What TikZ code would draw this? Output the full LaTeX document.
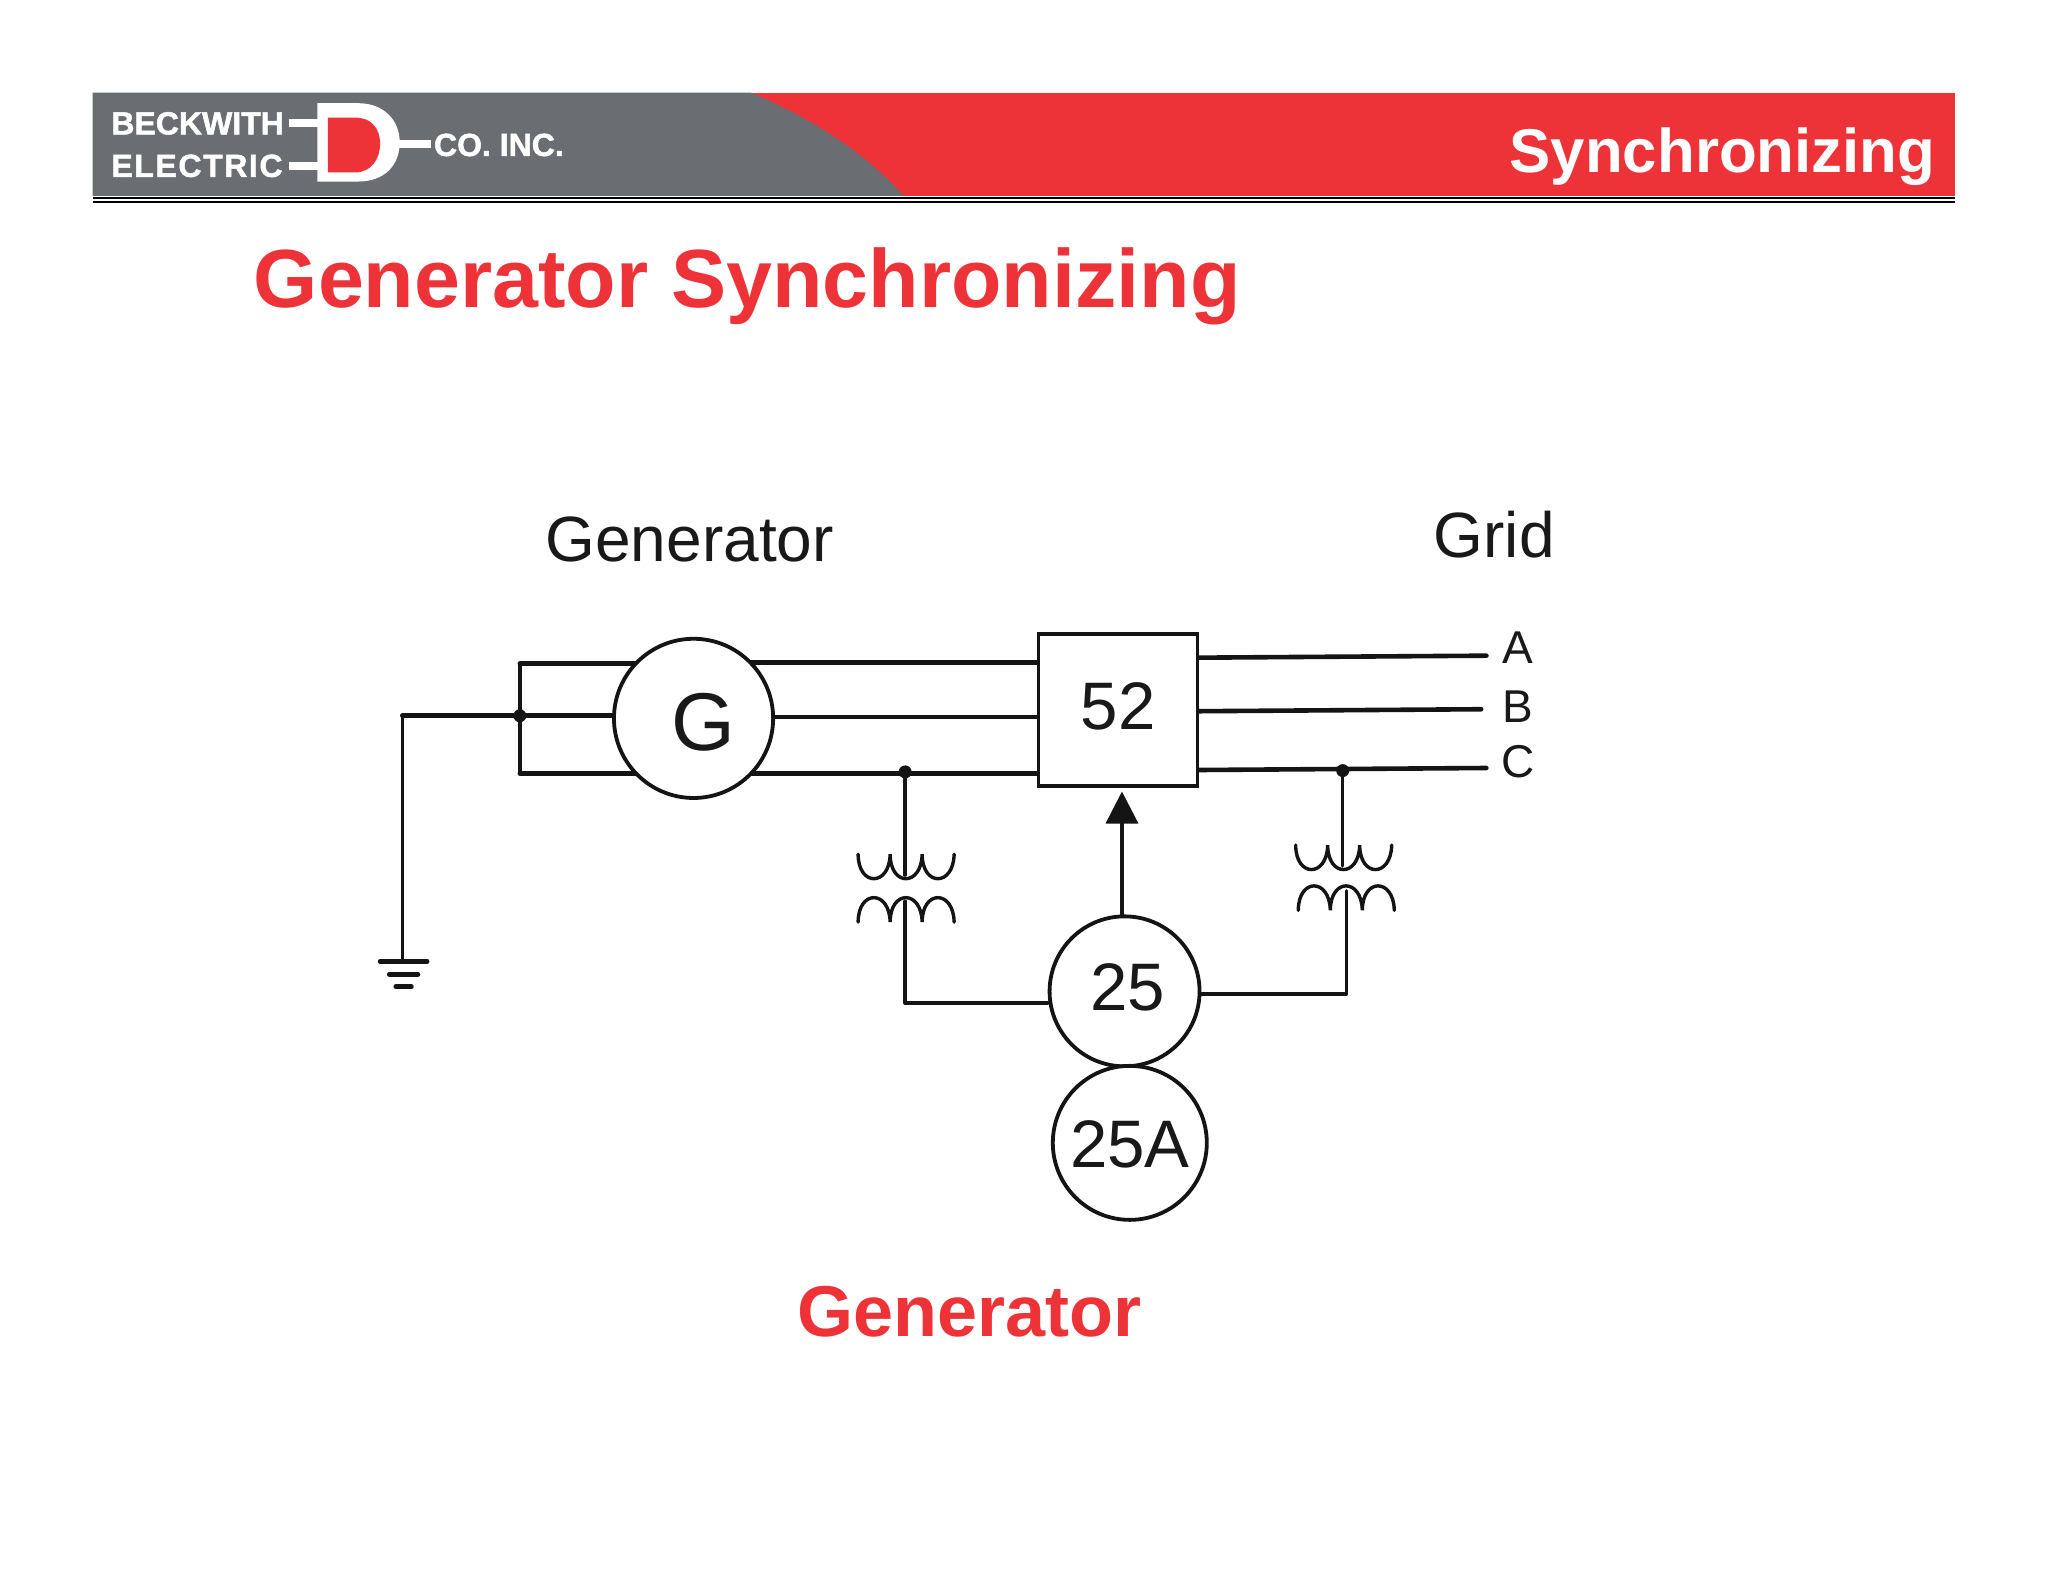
\documentclass[tikz,border=0pt]{standalone}
\usepackage{fontspec}
\setmainfont{Liberation Sans}
\usetikzlibrary{arrows.meta}
\definecolor{bandgray}{HTML}{6A6D72}
\definecolor{bandred}{HTML}{EE3338}
\newcommand{\lowered}[2]{\raisebox{#1}[\height][\depth]{#2}}
\tikzset{
  wire/.style={line width=2.3pt,black!92,line cap=round,line join=round},
  thinwire/.style={line width=1.7pt,black!92,line cap=round,line join=round},
  coil/.style={line width=1.7pt,black!92,line cap=round},
  relay/.style={circle,draw=black!92,line width=1.9pt,fill=white,inner sep=0pt},
  breaker/.style={rectangle,draw=black!92,line width=1.9pt,fill=white,inner sep=0pt},
  lab/.style={font=\fontsize{32}{36}\selectfont,text=black!90,inner sep=0pt},
  phase/.style={font=\fontsize{23}{26}\selectfont,text=black!90,inner sep=0pt},
  dot/.style={circle,fill=black!92,inner sep=0pt,minimum size=6.5pt},
  logo/.style={font=\bfseries\fontsize{16}{18}\selectfont,text=white,inner sep=0pt,anchor=west},
  redtext/.style={font=\bfseries,text=bandred,inner sep=0pt},
  logoline/.style={line width=4pt,white}
}
\newcommand{\coilU}[2]{%
  \draw[coil,shift={(#1,#2)}] (0,0) .. controls (0,25) and (24,25) .. (24.5,0)
    .. controls (24.5,25) and (48.5,25) .. (49,0)
    .. controls (49,25) and (73,25) .. (73.5,0);}
\newcommand{\coilN}[2]{%
  \draw[coil,shift={(#1,#2)}] (0,0) .. controls (0,-25) and (24,-25) .. (24.5,0)
    .. controls (24.5,-25) and (48.5,-25) .. (49,0)
    .. controls (49,-25) and (73,-25) .. (73.5,0);}
\begin{document}
\begin{tikzpicture}[x=0.65306pt,y=-0.65306pt]
\useasboundingbox (0,0) rectangle (1568,1211.2);
\fill[white] (0,0) rectangle (1568,1211.2);
% header band
\fill[bandred] (560,71) rectangle (1497,150);
\fill[bandgray] (71,71) -- (575,71) .. controls (625,92) and (665,120) .. (692,150) -- (71,150) -- cycle;
\draw[line width=0.8pt,black] (71,151.5) -- (1497,151.5);
\draw[line width=1pt,black] (71,155) -- (1497,155);
% logo
\node[logo] (beck) at (85,94.5) {\addfontfeature{FakeBold=1.5}BECKWITH};
\node[logo] (elec) at (85,127) {\addfontfeature{FakeBold=1.5,LetterSpace=5}ELECTRIC};
\node[logo] (coinc) at (332,111) {\addfontfeature{FakeBold=1.5}CO. INC.};
\draw[logoline] (221,94) -- (247,94);
\draw[logoline] (221,127) -- (247,127);
\draw[logoline] (296,110) -- (330,110);
\fill[white] (243,79) -- (274,79) .. controls (294,79) and (306,92) .. (306,109) .. controls (306,127) and (294,139) .. (274,139) -- (243,139) -- cycle;
\fill[bandred] (251,90) -- (272,90) .. controls (284,90) and (291,98) .. (291,110) .. controls (291,122) and (284,132) .. (272,132) -- (251,132) -- cycle;
% titles
\node[font=\bfseries\fontsize{30.9}{34}\selectfont,text=white,inner sep=0pt,anchor=east] (hdr) at (1482,120) {Synchronizing};
\node[redtext,font=\bfseries\fontsize{41.3}{46}\selectfont,anchor=west] (title) at (194,219) {Generator Synchronizing};
\node[redtext,font=\bfseries\fontsize{36}{40}\selectfont] (sub) at (742,1004) {Generator};
\node[lab] (lgen) at (528,413) {Generator};
\node[lab] (lgrid) at (1144,409) {Grid};
% coordinates
\coordinate (tl) at (398,508);
\coordinate (ml) at (398,548);
\coordinate (bl) at (398,592);
\coordinate (gnd) at (308,548);
\coordinate (gndb) at (308,736);
\coordinate (ea) at (1138,502);
\coordinate (eb) at (1134,543);
\coordinate (ec) at (1138,588);
\coordinate (cornerL) at (693,768);
\coordinate (cornerR) at (1031,761);
% wires behind nodes
\draw[thinwire] (tl) -- (bl);
\draw[wire] (tl) -- (530,508);
\draw[wire] (ml) -- (530,548);
\draw[wire] (bl) -- (530,592);
\draw[wire] (530,507) -- (800,507);
\draw[wire] (530,549) -- (800,549);
\draw[wire] (530,592) -- (800,592);
\draw[wire] (ml) -- (gnd);
\draw[thinwire] (gnd) -- (gndb);
\draw[wire] (850,504) -- (ea);
\draw[wire] (850,545) -- (eb);
\draw[wire] (850,590) -- (ec);
% ground
\draw[wire] (291,736) -- (327,736);
\draw[wire] (298,746) -- (320,746);
\draw[wire] (303,755.5) -- (315,755.5);
% nodes
\node[relay,minimum size=79.6pt,font=\fontsize{41}{46}\selectfont,text=black!90] (g) at (531,550) {\kern10pt\lowered{-2pt}{G}};
\node[breaker,minimum width=79.5pt,minimum height=76pt,font=\fontsize{33.6}{38}\selectfont,text=black!90] (brk) at (856,543.5) {\lowered{2pt}{52}};
\node[relay,minimum size=75pt,font=\fontsize{33.6}{38}\selectfont,text=black!90] (r25) at (861,759) {\kern3pt\lowered{2pt}{25}};
\node[relay,minimum size=77pt,font=\fontsize{33.6}{38}\selectfont,text=black!90] (r25a) at (865,875) {\lowered{-0.5pt}{25A}};
\node[phase] (pa) at (1162,496) {A};
\node[phase] (pb) at (1162,541) {B};
\node[phase] (pc) at (1162,583) {C};
% junctions
\node[dot] (j0) at (398,548) {};
\node[dot] (j1) at (693,591) {};
\node[dot] (j2) at (1028,590) {};
% transformers
\coilU{657}{654}
\coilN{657}{706}
\coilU{992}{647}
\coilN{994}{697}
\coordinate (t1u) at (693,670);
\coordinate (t1l) at (693,690);
\coordinate (t2u) at (1028,663);
\coordinate (t2l) at (1031,682);
\draw[thinwire] (j1) -- (t1u);
\draw[thinwire] (j2) -- (t2u);
\draw[thinwire] (t1l) -- (cornerL) -- (r25.west |- cornerL);
\draw[thinwire] (t2l) -- (cornerR) -- (r25.east |- cornerR);
% arrow
\draw[thinwire,-{Triangle[length=16pt,width=16pt]}] (859,700) -- (859,606);
\end{tikzpicture}
\end{document}
